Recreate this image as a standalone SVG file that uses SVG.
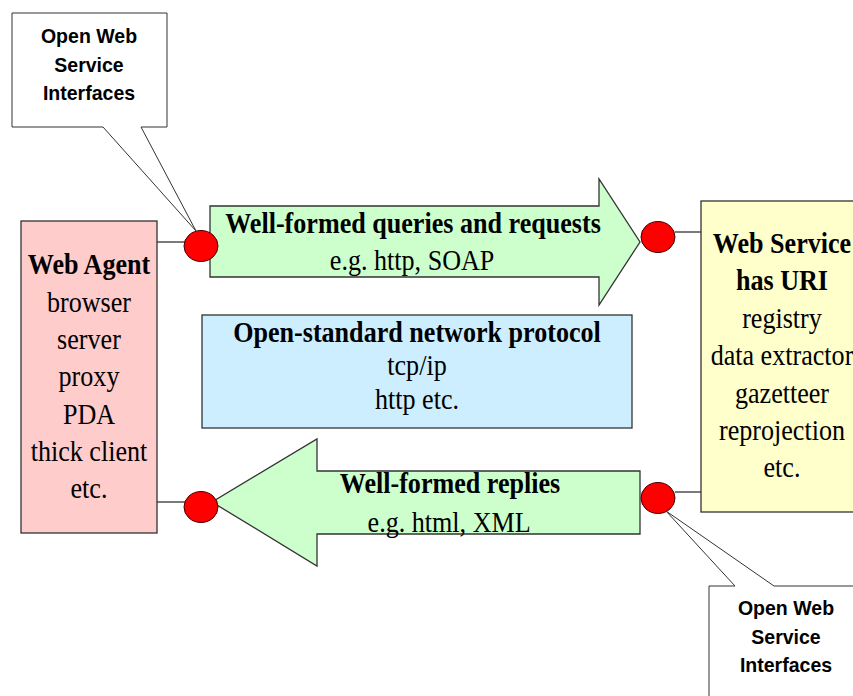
<svg xmlns="http://www.w3.org/2000/svg" width="853" height="696" viewBox="0 0 853 696">
  <style>
    .box { stroke: #333; stroke-width: 1.3; }
    .callout { fill: #fff; stroke: #333; stroke-width: 1; }
    .port { fill: #ff0000; stroke: #400; stroke-width: 1; }
    .link { stroke: #333; stroke-width: 1.3; fill: none; }
    .serif { font-family: "Liberation Serif", "Times New Roman", serif; font-size: 29px; fill: #000; text-anchor: middle; }
    .serif.b { font-weight: bold; }
    .sans { font-family: "Liberation Sans", Arial, sans-serif; font-size: 21px; font-weight: bold; fill: #000; text-anchor: middle; }
  </style>
  <rect width="853" height="696" fill="#fff"/>

  <!-- client side; labels are narrowed to 90% around their centre line -->
  <g id="web-agent">
    <rect class="box" x="21" y="221" width="136" height="312" fill="#ffcccc"/>
    <g transform="matrix(0.9 0 0 1 8.9 0)">
      <text class="serif b" x="89" y="274">Web Agent</text>
      <text class="serif" x="89" y="312">browser</text>
      <text class="serif" x="89" y="349">server</text>
      <text class="serif" x="89" y="386">proxy</text>
      <text class="serif" x="89" y="424">PDA</text>
      <text class="serif" x="89" y="461">thick client</text>
      <text class="serif" x="89" y="498">etc.</text>
    </g>
  </g>

  <!-- server side -->
  <g id="web-service">
    <rect class="box" x="701" y="201" width="160" height="311" fill="#ffffcc"/>
    <g transform="matrix(0.9 0 0 1 78.2 0)">
      <text class="serif b" x="782" y="253">Web Service</text>
      <text class="serif b" x="782" y="290">has URI</text>
      <text class="serif" x="782" y="328">registry</text>
      <text class="serif" x="782" y="365">data extractor</text>
      <text class="serif" x="782" y="403">gazetteer</text>
      <text class="serif" x="782" y="440">reprojection</text>
      <text class="serif" x="782" y="477">etc.</text>
    </g>
  </g>

  <!-- transport layer -->
  <g id="network-protocol">
    <rect class="box" x="202" y="315" width="430" height="113" fill="#cceeff"/>
    <g transform="matrix(0.9 0 0 1 41.7 0)">
      <text class="serif b" x="417" y="342">Open-standard network protocol</text>
      <text class="serif" x="417" y="375">tcp/ip</text>
      <text class="serif" x="417" y="409">http etc.</text>
    </g>
  </g>

  <!-- request / reply arrows -->
  <g id="requests">
    <path class="box" d="M210,206 H599 V179 L640,242 L599,305 V277 H210 Z" fill="#ccffcc"/>
    <g transform="matrix(0.9 0 0 1 41.3 0)">
      <text class="serif b" x="413" y="233">Well-formed queries and requests</text>
      <text class="serif" x="412" y="270">e.g. http, SOAP</text>
    </g>
  </g>

  <g id="replies">
    <path class="box" d="M640,471 V534 H317 V566 L212,502 L317,439 V471 Z" fill="#ccffcc"/>
    <g transform="matrix(0.9 0 0 1 45 0)">
      <text class="serif b" x="450" y="493">Well-formed replies</text>
      <text class="serif" x="449" y="532">e.g. html, XML</text>
    </g>
  </g>

  <g id="connectors">
    <line class="link" x1="157" y1="242" x2="185" y2="242"/>
    <line class="link" x1="675" y1="232" x2="701" y2="232"/>
    <line class="link" x1="157" y1="502" x2="185" y2="502"/>
    <line class="link" x1="675" y1="492" x2="701" y2="492"/>
  </g>

  <!-- interface ports -->
  <g id="ports">
    <ellipse class="port" cx="201" cy="246" rx="17" ry="15.5"/>
    <ellipse class="port" cx="658" cy="237" rx="17" ry="15.5"/>
    <ellipse class="port" cx="201" cy="507" rx="17" ry="15.5"/>
    <ellipse class="port" cx="658" cy="498" rx="17" ry="15.5"/>
  </g>

  <!-- interface callouts -->
  <g id="callout-agent">
    <path class="callout" d="M12,13 H167 V127 H141 L196,231 L103,127 H12 Z"/>
    <g transform="matrix(0.93 0 0 1 6.23 0)">
      <text class="sans" x="89" y="43">Open Web</text>
      <text class="sans" x="89" y="72">Service</text>
      <text class="sans" x="89" y="100">Interfaces</text>
    </g>
  </g>

  <g id="callout-service">
    <path class="callout" d="M709,586 H735 L666,511 L774,586 H862 V704 H709 Z"/>
    <g transform="matrix(0.93 0 0 1 55.02 0)">
      <text class="sans" x="786" y="615">Open Web</text>
      <text class="sans" x="786" y="644">Service</text>
      <text class="sans" x="786" y="672">Interfaces</text>
    </g>
  </g>
</svg>
